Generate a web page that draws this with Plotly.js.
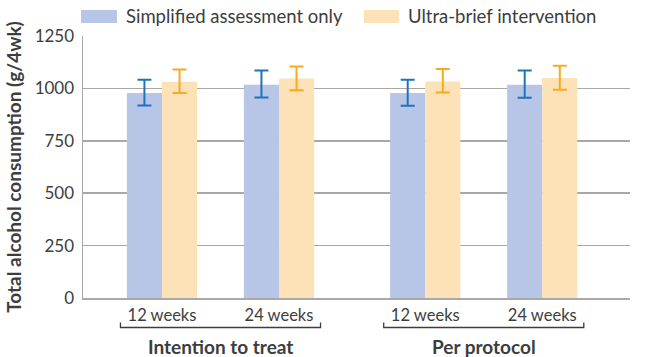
<!DOCTYPE html>
<html><head><meta charset="utf-8">
<script src="https://cdn.plot.ly/plotly-3.0.1.min.js"></script>
<style>html,body{margin:0;padding:0;background:#fff}#chart{width:650px;height:357px}</style>
</head><body><div id="chart"></div>
<script>
// Data
const timepoints = ["12 weeks", "24 weeks", "12 weeks", "24 weeks"];
const groups = ["Intention to treat", "Per protocol"];
const seriesNames = ["Simplified assessment only", "Ultra-brief intervention"];
const assessMean  = [978, 1017, 978, 1017];
const assessUpper = [1041, 1085, 1041, 1085];
const assessLower = [918, 956, 917, 955];
const ubiMean  = [1032, 1047, 1033, 1050];
const ubiUpper = [1090, 1104, 1092, 1108];
const ubiLower = [978, 991, 980, 994];

// category positions (layout): two groups of two
const xpos = [0, 1, 2.25, 3.25];
const groupSpan = [[-0.355, 1.355], [1.895, 3.605]];

const font = "Lato, 'Open Sans', sans-serif";
const txt = "#3d3d3d";
const cBlue = "#b7c5e6", cOrange = "#fde2b8";
const eBlue = "#1f73bd", eOrange = "#f7aa1e";

function mk(mean, up, lo, name, color, ecol, offset) {
  return {
    type: "bar", x: xpos, y: mean, name: name, width: 0.3, offset: offset,
    marker: {color: color, line: {width: 0}},
    error_y: {type: "data", symmetric: false,
      array: up.map((u, i) => u - mean[i]),
      arrayminus: lo.map((l, i) => mean[i] - l),
      color: ecol, thickness: 2, width: 7},
    showlegend: false, hoverinfo: "y"
  };
}
const traces = [
  mk(assessMean, assessUpper, assessLower, seriesNames[0], cBlue, eBlue, -0.3),
  mk(ubiMean, ubiUpper, ubiLower, seriesNames[1], cOrange, eOrange, 0)
];

const shapes = [], annotations = [];
// custom legend
const legendItems = [
  {x0: 81, x1: 117, tx: 124, name: seriesNames[0], c: cBlue},
  {x0: 364, x1: 399, tx: 406, name: seriesNames[1], c: cOrange}
];
const W = 650, H = 357, mL = 83, mR = 20, mT = 36, mB = 59;
const pw = W - mL - mR, ph = H - mT - mB;
const px = v => (v - mL) / pw;
const py = v => (H - mB - v) / ph;
legendItems.forEach(it => {
  shapes.push({type: "rect", xref: "paper", yref: "paper", x0: px(it.x0), x1: px(it.x1), y0: py(23), y1: py(10), fillcolor: it.c, line: {width: 0}});
  annotations.push({xref: "paper", yref: "paper", x: px(it.tx), y: py(16.5), xanchor: "left", yanchor: "middle", text: it.name, showarrow: false, font: {family: font, size: 18.5, color: txt}});
});
// group brackets
groupSpan.forEach((s, i) => {
  shapes.push({type: "path", xref: "x", yref: "paper",
    path: `M ${s[0]},${py(322.5)} L ${s[0]},${py(327.5)} L ${s[1]},${py(327.5)} L ${s[1]},${py(322.5)}`,
    line: {color: "#3d3d3d", width: 1.3}});
  annotations.push({xref: "x", yref: "paper", x: (s[0] + s[1]) / 2, y: py(346.5), yanchor: "middle", text: "<b>" + groups[i] + "</b>", showarrow: false, font: {family: font, size: 19, color: txt}});
});

const layout = {
  width: W, height: H, margin: {l: mL, r: mR, t: mT, b: mB},
  paper_bgcolor: "#fff", plot_bgcolor: "#fff",
  font: {family: font, size: 16, color: txt},
  barmode: "overlay",
  xaxis: {range: [-0.675, 4.0], tickvals: xpos, ticktext: timepoints, showgrid: false, zeroline: false,
    showline: true, linecolor: "#a9a9a9", linewidth: 1.5, ticks: "", tickfont: {family: font, size: 16.5, color: txt}, ticklabelstandoff: 2},
  yaxis: {range: [0, 1250], tickvals: [0, 250, 500, 750, 1000, 1250], showgrid: true, gridcolor: "#a8a8a8", gridwidth: 1.5,
    zeroline: false, showline: true, linecolor: "#a9a9a9", linewidth: 1.5, ticks: "",
    tickfont: {family: font, size: 17, color: txt}, ticklabelstandoff: 4,
    title: {text: "<b>Total alcohol consumption (g/4wk)</b>", font: {family: font, size: 19, color: txt}, standoff: 8}},
  shapes: shapes, annotations: annotations
};
Plotly.newPlot("chart", traces, layout, {displayModeBar: false, staticPlot: true});
</script></body></html>
